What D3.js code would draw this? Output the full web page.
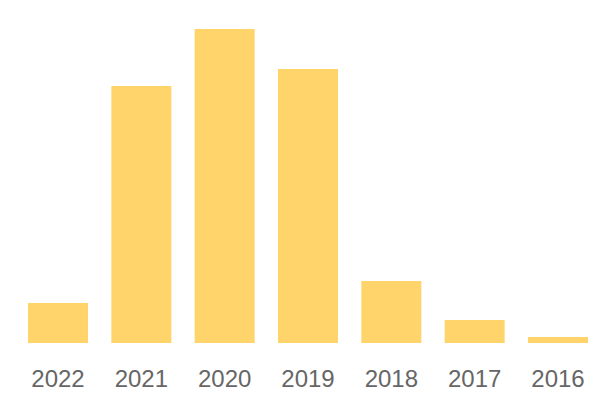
<!DOCTYPE html>
<html><head><meta charset="utf-8">
<script src="https://cdn.jsdelivr.net/npm/d3@7"></script>
<style>html,body{margin:0;padding:0;background:#fff;}</style>
</head><body>
<svg id="c" width="600" height="400"></svg>
<script>
const years = ["2022","2021","2020","2019","2018","2017","2016"];
const values = [40, 257, 314, 274, 62, 23, 6];

(function(){
const svg = d3.select("#c");
const baseline = 343, topY = 29;
const x = d3.scaleBand().domain(years).range([28, 588]).paddingInner(0.28).paddingOuter(0);
const y = d3.scaleLinear().domain([0, d3.max(values)]).range([baseline, topY]);

svg.selectAll("rect").data(years).join("rect")
  .attr("x", d => x(d))
  .attr("width", x.bandwidth())
  .attr("y", (d,i) => y(values[i]))
  .attr("height", (d,i) => baseline - y(values[i]))
  .attr("fill", "#FFD56B");

const axis = d3.axisBottom(x).tickSize(0).tickPadding(0);
const g = svg.append("g").attr("transform", `translate(0,${baseline})`).call(axis);
g.select(".domain").remove();
g.selectAll("text")
  .attr("y", 44)
  .attr("dy", 0)
  .attr("fill", "#666")
  .style("font-family", "'Liberation Sans', Arial, sans-serif")
  .style("font-size", "24px");
})();
</script>
</body></html>
